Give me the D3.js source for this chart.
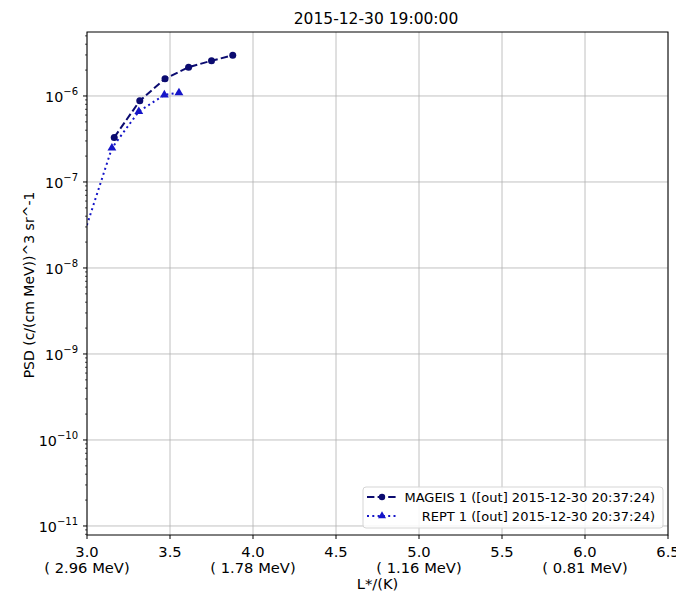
<!DOCTYPE html>
<html>
<head>
<meta charset="utf-8">
<script src="https://cdn.jsdelivr.net/npm/d3@7"></script>
<style>
  body { margin: 0; background: #fff; }
  svg { font-family: "DejaVu Sans", sans-serif; }
</style>
</head>
<body>
<svg id="chart" width="676" height="595"></svg>
<script>
// Phase space density versus L* for two instruments
const mageisL = [3.164, 3.318, 3.470, 3.612, 3.750, 3.878];
const mageisPSD = [3.3e-7, 8.8e-7, 1.59e-6, 2.16e-6, 2.57e-6, 2.97e-6];
const reptL = [2.95, 3.150, 3.312, 3.466, 3.554];
const reptPSD = [1.6e-8, 2.48e-7, 6.6e-7, 1.03e-6, 1.09e-6];

const xTicks = [3.0, 3.5, 4.0, 4.5, 5.0, 5.5, 6.0, 6.5];
const xTickEnergy = { "3.0": "( 2.96 MeV)", "4.0": "( 1.78 MeV)", "5.0": "( 1.16 MeV)", "6.0": "( 0.81 MeV)" };
const yExponents = [-11, -10, -9, -8, -7, -6];

const titleText = "2015-12-30 19:00:00";
const seriesNames = ["MAGEIS 1 ([out] 2015-12-30 20:37:24)", "REPT 1 ([out] 2015-12-30 20:37:24)"];

const svg = d3.select("#chart");
const m = { left: 87, right: 668, top: 32, bottom: 535 };

const x = d3.scaleLinear().domain([3.0, 6.5]).range([m.left, m.right]);
const y = d3.scaleLog().domain([Math.pow(10, -11.105), Math.pow(10, -5.256)]).range([m.bottom, m.top]);

const fs = 14.7;

// grid
const grid = svg.append("g").attr("stroke", "#b0b0b0").attr("stroke-width", 0.8);
xTicks.forEach(t => grid.append("line").attr("x1", x(t)).attr("x2", x(t)).attr("y1", m.top).attr("y2", m.bottom));
yExponents.forEach(e => grid.append("line").attr("x1", m.left).attr("x2", m.right).attr("y1", y(Math.pow(10, e))).attr("y2", y(Math.pow(10, e))));

// clip
svg.append("clipPath").attr("id", "clip").append("rect")
  .attr("x", m.left).attr("y", m.top).attr("width", m.right - m.left).attr("height", m.bottom - m.top);

const plot = svg.append("g").attr("clip-path", "url(#clip)");
const line = d3.line().x(d => x(d[0])).y(d => y(d[1]));

const mageis = mageisL.map((v, i) => [v, mageisPSD[i]]);
const rept = reptL.map((v, i) => [v, reptPSD[i]]);

const cMageis = "#0b0b70";
const cRept = "#1515c8";

plot.append("path").datum(rept).attr("d", line).attr("fill", "none")
  .attr("stroke", cRept).attr("stroke-width", 2).attr("stroke-dasharray", "2,3.3");
plot.append("path").datum(mageis).attr("d", line).attr("fill", "none")
  .attr("stroke", cMageis).attr("stroke-width", 2).attr("stroke-dasharray", "7.4,3.2");

const tri = d3.symbol().type(d3.symbolTriangle).size(34);
plot.selectAll(".rt").data(rept).enter().append("path")
  .attr("transform", d => `translate(${x(d[0])},${y(d[1])})`).attr("d", tri).attr("fill", cRept);
plot.selectAll(".mc").data(mageis).enter().append("circle")
  .attr("cx", d => x(d[0])).attr("cy", d => y(d[1])).attr("r", 3.5).attr("fill", cMageis);

// frame
svg.append("rect").attr("x", m.left).attr("y", m.top).attr("width", m.right - m.left).attr("height", m.bottom - m.top)
  .attr("fill", "none").attr("stroke", "#000").attr("stroke-width", 1);

// x axis ticks and labels
const xa = svg.append("g");
xTicks.forEach(t => {
  xa.append("line").attr("x1", x(t)).attr("x2", x(t)).attr("y1", m.bottom).attr("y2", m.bottom + 4).attr("stroke", "#000");
  const key = t.toFixed(1);
  xa.append("text").attr("x", x(t)).attr("y", 557).attr("text-anchor", "middle")
    .attr("font-size", fs).text(key);
  if (xTickEnergy[key]) {
    xa.append("text").attr("x", x(t)).attr("y", 572.5).attr("text-anchor", "middle")
      .attr("font-size", fs).text(xTickEnergy[key]);
  }
});
svg.append("text").attr("x", (m.left + m.right) / 2).attr("y", 589).attr("text-anchor", "middle")
  .attr("font-size", fs).text("L*/(K)");

// y axis ticks
const ya = svg.append("g");
for (let e = -12; e <= -5; e++) {
  for (let k = 1; k <= 9; k++) {
    const v = k * Math.pow(10, e);
    const py = y(v);
    if (py < m.top - 0.5 || py > m.bottom + 0.5) continue;
    const len = k === 1 ? 4 : 2;
    ya.append("line").attr("x1", m.left - len).attr("x2", m.left).attr("y1", py).attr("y2", py)
      .attr("stroke", "#000").attr("stroke-width", k === 1 ? 1 : 0.7);
  }
}
yExponents.forEach(e => {
  const t = ya.append("text").attr("x", m.left - 9).attr("y", y(Math.pow(10, e)) + 6)
    .attr("text-anchor", "end").attr("font-size", 14.3);
  t.append("tspan").text("10");
  t.append("tspan").attr("dy", -7).attr("font-size", 10).text("\u2212" + Math.abs(e));
});
svg.append("text").attr("transform", `translate(34,285) rotate(-90)`)
  .attr("text-anchor", "middle").attr("font-size", 14).text("PSD (c/(cm MeV))^3 sr^-1");

// title
svg.append("text").attr("x", 376).attr("y", 24).attr("text-anchor", "middle")
  .attr("font-size", 15.5).text(titleText);

// legend
const lg = svg.append("g");
lg.append("rect").attr("x", 363).attr("y", 487).attr("width", 300).attr("height", 41).attr("rx", 3)
  .attr("fill", "#fff").attr("fill-opacity", 0.85).attr("stroke", "#d5d5d5");
const rows = [
  { name: seriesNames[0], c: cMageis, dash: "7.4,3.2", mk: "circle", yy: 497 },
  { name: seriesNames[1], c: cRept, dash: "2,3.3", mk: "tri", yy: 516 }
];
rows.forEach(r => {
  lg.append("line").attr("x1", 367).attr("x2", 397).attr("y1", r.yy).attr("y2", r.yy)
    .attr("stroke", r.c).attr("stroke-width", 2).attr("stroke-dasharray", r.dash);
  if (r.mk === "circle") {
    lg.append("circle").attr("cx", 382).attr("cy", r.yy).attr("r", 3.2).attr("fill", r.c);
  } else {
    lg.append("path").attr("transform", `translate(382,${r.yy})`).attr("d", d3.symbol().type(d3.symbolTriangle).size(28)).attr("fill", r.c);
  }
  lg.append("text").attr("x", 655).attr("y", r.yy + 4.5).attr("text-anchor", "end")
    .attr("font-size", 13).text(r.name);
});
</script>
</body>
</html>
